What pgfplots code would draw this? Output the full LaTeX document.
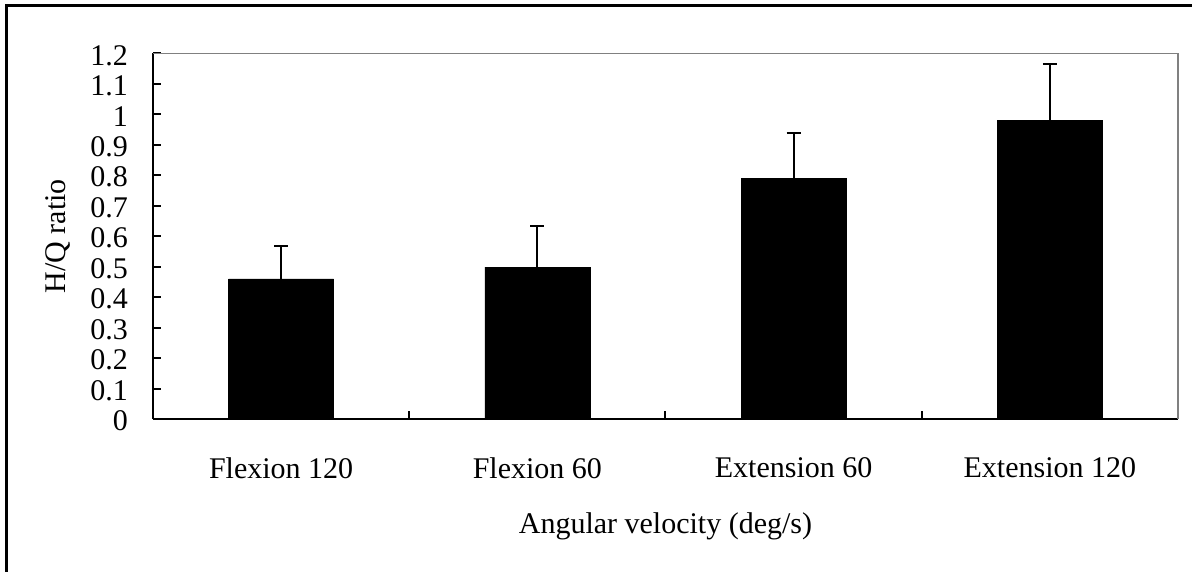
\documentclass[border=0pt]{standalone}
\usepackage{pgfplots}
\pgfplotsset{compat=1.18}
\usepackage{pgfplotstable}
\usepackage{fontspec}
\setmainfont{Liberation Serif}
\pgfplotstableread{
x y e
1 0.460 0.107
2 0.498 0.134
3 0.789 0.151
4 0.981 0.185
}\datatable
\begin{document}
\begin{tikzpicture}
\useasboundingbox (0,0) rectangle (1192bp,572bp);
\draw[line width=2.5bp] (6.7bp,-5bp) -- (6.7bp,566.7bp) -- (1200bp,566.7bp);
\begin{axis}[
  at={(153bp,153bp)}, anchor=south west,
  scale only axis, width=1025bp, height=365.7bp,
  xmin=0.5, xmax=4.5, ymin=0, ymax=1.2,
  axis x line*=bottom, axis y line*=left,
  axis line style={line width=2bp, black},
  tick align=inside,
  xtick={1,2,3,4},
  xticklabels={Flexion 120, Flexion 60, Extension 60, Extension 120},
  minor xtick={0.5,1.5,2.5,3.5,4.5},
  ytick={0,0.1,0.2,0.3,0.4,0.5,0.6,0.7,0.8,0.9,1,1.1,1.2},
  major tick length=8bp, minor tick length=8bp,
  tick style={line width=2bp, black},
  major x tick style={draw=none},
  /pgf/number format/assume math mode=true,
  tick label style={font=\fontsize{30bp}{36bp}\selectfont},
  y tick label style={anchor=east, inner sep=0pt, xshift=-25bp, yshift=-2bp},
  x tick label style={anchor=north, inner sep=0pt, yshift=-38bp},
  xlabel={Angular velocity (deg/s)},
  ylabel={H/Q ratio},
  every axis x label/.style={at={(axis description cs:0.5,-0.3131)}, anchor=base, font=\fontsize{30bp}{36bp}\selectfont},
  every axis y label/.style={at={(axis description cs:-0.0849,0.5)}, anchor=base, rotate=90, font=\fontsize{30bp}{36bp}\selectfont},
  clip=false,
]
\addplot[ybar, bar width=105bp, fill=black, draw=black,
  error bars/.cd, y dir=plus, y explicit,
  error bar style={line width=2bp, black},
  error mark options={rotate=90, mark size=7bp, line width=2bp, black}]
  table[x=x, y=y, y error=e] {\datatable};
\draw[gray, line width=1.5bp] (rel axis cs:0,1) -- (rel axis cs:1,1) -- (rel axis cs:1,0);
\end{axis}
\end{tikzpicture}
\end{document}
